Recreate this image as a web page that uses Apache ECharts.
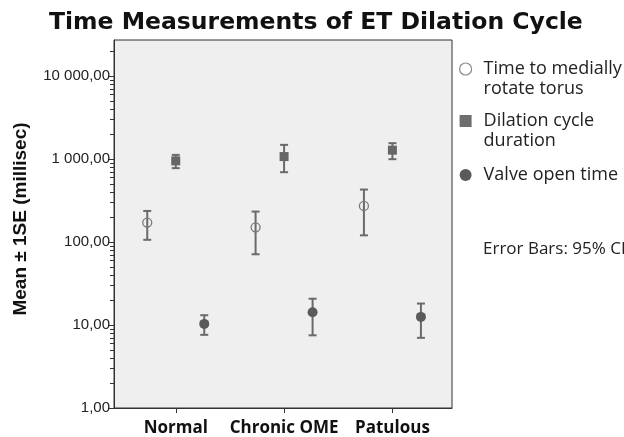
<!DOCTYPE html>
<html>
<head>
<meta charset="utf-8">
<script src="https://cdn.jsdelivr.net/npm/echarts@6/dist/echarts.min.js"></script>
<style>
  html, body { margin: 0; padding: 0; background: #fff; }
  #chart { width: 624px; height: 437px; }
</style>
</head>
<body>
<div id="chart"></div>
<script>
// groups on the x axis
const categories = ['Normal', 'Chronic OME', 'Patulous'];

// time to medially rotate torus (mean, 95% CI low / high)
const rotateMean = [171, 150, 271];
const rotateLow = [106, 71, 120];
const rotateHigh = [236, 232, 427];

// dilation cycle duration
const dilationMean = [946, 1066, 1273];
const dilationLow = [773, 691, 991];
const dilationHigh = [1117, 1475, 1545];

// valve open time
const valveMean = [10.3, 14.2, 12.5];
const valveLow = [7.6, 7.5, 7.0];
const valveHigh = [13.1, 20.7, 18.1];

// y axis ticks
const yTicks = [1, 10, 100, 1000, 10000];
const yMinorTicks = [];
yTicks.forEach(d => {
    for (let m = 2; m <= 9; m++) {
        if (d * m <= 27000) yMinorTicks.push(d * m);
    }
});

const seriesNames = ['Time to medially rotate torus', 'Dilation cycle duration', 'Valve open time'];
// leading blank line keeps the icon level with the first text line
const legendText = {
    'Time to medially rotate torus': ' \nTime to medially\nrotate torus',
    'Dilation cycle duration': ' \nDilation cycle\nduration',
    'Valve open time': 'Valve open time'
};

const fmtTick = v => {
    const n = Math.round(v).toString().replace(/\B(?=(\d{3})+(?!\d))/g, ' ');
    return n + ',00';
};

const barColor = '#6a6a6a';

// one custom series per measure: error bar + marker, shifted sideways inside the group
function errorSeries(name, means, lows, highs, shift, marker) {
    return {
        name: name,
        type: 'custom',
        clip: false,
        encode: { x: 0, y: [1, 2, 3] },
        data: categories.map((c, i) => [i, means[i], lows[i], highs[i]]),
        renderItem: function (params, api) {
            const i = api.value(0);
            const pm = api.coord([i, api.value(1)]);
            const pl = api.coord([i, api.value(2)]);
            const ph = api.coord([i, api.value(3)]);
            const x = pm[0] + shift;
            const cap = 4;
            const lineStyle = { stroke: barColor, lineWidth: 2 };
            const children = [
                { type: 'line', shape: { x1: x, y1: ph[1], x2: x, y2: pl[1] }, style: lineStyle },
                { type: 'line', shape: { x1: x - cap, y1: ph[1], x2: x + cap, y2: ph[1] }, style: lineStyle },
                { type: 'line', shape: { x1: x - cap, y1: pl[1], x2: x + cap, y2: pl[1] }, style: lineStyle }
            ];
            if (marker === 'open') {
                children.push({ type: 'circle', shape: { cx: x, cy: pm[1], r: 4.5 },
                    style: { fill: 'none', stroke: '#7a7a7a', lineWidth: 1.3 } });
            } else if (marker === 'square') {
                children.push({ type: 'rect', shape: { x: x - 4.5, y: pm[1] - 4.5, width: 9, height: 9 },
                    style: { fill: '#666' } });
            } else {
                children.push({ type: 'circle', shape: { cx: x, cy: pm[1], r: 5 },
                    style: { fill: '#5a5a5a' } });
            }
            return { type: 'group', children: children };
        }
    };
}

const chart = echarts.init(document.getElementById('chart'), null, { renderer: 'canvas' });

const option = {
    backgroundColor: '#fff',
    animation: false,
    title: {
        text: 'Time Measurements of ET Dilation Cycle',
        left: 44,
        top: 6,
        textStyle: { fontFamily: 'DejaVu Sans', fontWeight: 'bold', fontSize: 23.5, color: '#111' }
    },
    grid: {
        left: 114,
        top: 40,
        width: 338,
        height: 369,
        show: true,
        backgroundColor: '#efefef',
        borderColor: '#333',
        borderWidth: 1
    },
    xAxis: {
        type: 'value',
        min: -0.57,
        max: 2.55,
        splitLine: { show: false },
        axisLine: { show: true, onZero: false, lineStyle: { color: '#333' } },
        axisTick: { show: true, customValues: [0, 1, 2], length: 5, lineStyle: { color: '#333' } },
        axisLabel: {
            customValues: [0, 1, 2],
            formatter: v => categories[Math.round(v)],
            margin: 12,
            fontFamily: 'Open Sans',
            fontWeight: 'bold',
            fontSize: 17,
            color: '#111'
        }
    },
    yAxis: {
        type: 'log',
        logBase: 10,
        min: 1,
        max: 27000,
        name: 'Mean \u00b1 1SE (millisec)',
        nameLocation: 'middle',
        nameRotate: 90,
        nameGap: 84,
        nameTextStyle: { fontFamily: 'Liberation Sans', fontWeight: 'bold', fontSize: 19, color: '#111', padding: [0, 0, 0, 10] },
        splitLine: { show: false },
        axisLine: { show: true, onZero: false, lineStyle: { color: '#333' } },
        axisTick: { show: true, customValues: yTicks, length: 6, lineStyle: { color: '#333' } },
        axisLabel: {
            customValues: yTicks,
            formatter: fmtTick,
            margin: 4,
            fontFamily: 'Liberation Sans',
            fontSize: 15,
            color: '#222'
        }
    },
    legend: {
        orient: 'vertical',
        left: 459,
        top: 39,
        padding: 0,
        itemGap: -8,
        itemWidth: 12,
        itemHeight: 12,
        formatter: n => legendText[n],
        textStyle: { fontFamily: 'Open Sans', fontSize: 18, lineHeight: 20, color: '#222' },
        data: [
            { name: seriesNames[0], icon: 'circle',
              itemStyle: { color: '#fff', borderColor: '#8a8a8a', borderWidth: 1.2 },
              textStyle: { padding: [0, 0, 0, 7] } },
            { name: seriesNames[1], icon: 'rect',
              itemStyle: { color: '#6e6e6e', borderWidth: 0 },
              textStyle: { padding: [0, 0, 0, 7] } },
            { name: seriesNames[2], icon: 'circle',
              itemStyle: { color: '#5a5a5a', borderWidth: 0 },
              textStyle: { padding: [22, 0, 22, 7] } }
        ]
    },
    graphic: [
        {
            type: 'text',
            left: 483,
            top: 241,
            style: { text: 'Error Bars: 95% CI', fontFamily: 'Open Sans', fontSize: 17, fill: '#222' }
        }
    ],
    series: [
        errorSeries(seriesNames[0], rotateMean, rotateLow, rotateHigh, -28.5, 'open'),
        errorSeries(seriesNames[1], dilationMean, dilationLow, dilationHigh, 0, 'square'),
        errorSeries(seriesNames[2], valveMean, valveLow, valveHigh, 28.5, 'filled'),
        {
            // minor log ticks on the y axis
            type: 'custom',
            silent: true,
            clip: false,
            z: 10,
            data: yMinorTicks.map(v => [0, v]),
            encode: { x: 0, y: 1 },
            renderItem: function (params, api) {
                const y = Math.round(api.coord([0, api.value(1)])[1]) + 0.5;
                const x0 = params.coordSys.x;
                return { type: 'line', shape: { x1: x0 - 4, y1: y, x2: x0, y2: y },
                    style: { stroke: '#333', lineWidth: 1 } };
            }
        }
    ]
};

chart.setOption(option);
</script>
</body>
</html>
